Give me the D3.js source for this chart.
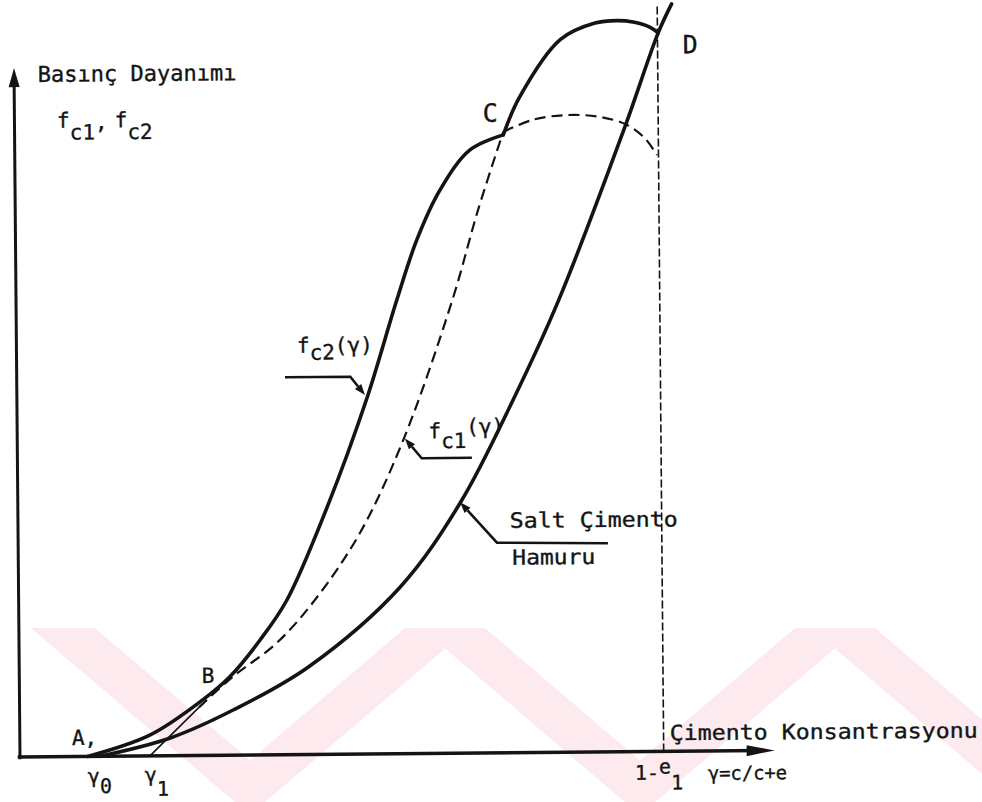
<!DOCTYPE html>
<html>
<head>
<meta charset="utf-8">
<script src="https://cdn.jsdelivr.net/npm/d3@7"></script>
<style>
  html, body { margin: 0; padding: 0; background: #fff; }
  svg { display: block; }
  text { font-family: "DejaVu Sans Mono", monospace; fill: #141414; stroke: #141414; stroke-width: 0.35; }
</style>
</head>
<body>
<svg id="chart" width="982" height="802"></svg>
<script>
// γ = c/(c+e) on the x axis, compressive strength on the y axis (relative units 0–100)
const gamma0 = 8.9;      // A: start of strength gain
const gamma1 = 17.1;     // start of fc1
const oneMinusE1 = 84.7; // 1 - e1

// fc2(γ): rising branch A → B → C
const fc2Lower = [[8.9,0],[17.1,2.8],[24.1,7.5],[27.7,10.6],[31.7,15.5],[35.3,20.9],[40.7,33.4],
                  [46.1,48.2],[50.1,61.3],[52.8,69.4],[55.9,76.1],[59.9,81.5],[64.3,83.5]];
// fc2(γ): upper branch C → D
const fc2Upper = [[64.3,83.5],[66.5,88.6],[71.9,96.3],[76.5,98.5],[79.4,98.8],[81.5,98.6],[83.7,97.9],[84.8,97.1]];
// salt çimento hamuru (pure cement paste)
const saltPaste = [[10.5,0],[19.8,2.4],[28.1,6.1],[38.0,11.8],[50.2,22.5],[58.2,33.8],[65.3,47.7],
                   [71.4,61.1],[80.3,84.4],[84.8,97.1],[86.6,101]];
// fc1(γ): straight start γ1 → B, dashed rise B → C, dashed dome past C
const fc1Start = [[17.1,0],[23.6,6.5]];
const fc1Rise = [[23.6,6.5],[28.1,10.6],[33.9,15.1],[39.0,20.9],[45.0,29.9],[50.8,42.4],
                 [57.4,61.2],[60.9,73.4],[64.3,83.9]];
const fc1Dome = [[64.3,83.9],[68.2,85.5],[72.7,86.1],[77.1,85.8],[80.6,84.7],[82.9,82.9],[84.5,80.6]];

// leader arrows: tail, elbow, tip on the curve
const leaders = [
  { tail:[35.3,51.0], elbow:[43.9,51.0], tip:[45.8,48.5] },
  { tail:[59.8,39.9], elbow:[53.2,39.9], tip:[51.0,42.6] },
  { tail:[77.6,28.2], elbow:[63.0,28.4], tip:[58.2,33.9] }
];

// tick labels along the γ axis
const tickLabels = [
  { at: gamma0, yv: -3.6, parts: [["γ",0],["0",10]] },
  { at: gamma1 - 0.7, yv: -3.5, parts: [["γ",0],["1",14]] },
  { at: oneMinusE1 - 3.8, yv: -3.8, parts: [["1-",0],["e",-6],["1",10]] }
];

const W = 982, H = 802;
const svg = d3.select("#chart");

// faint watermark chevrons along the bottom
const chevrons = [
  { cx: 250, half: 219, arm: 64 },
  { cx: 640, half: 219, arm: 64 },
  { cx: 1030, half: 219, arm: 64 }
];
const wm = svg.append("g");
const wmTop = 628, wmDepth = 187;
chevrons.forEach(c => {
  const k = c.half / wmDepth;
  const innerDepth = wmDepth - c.arm / k;
  const pts = [
    [c.cx - c.half, wmTop], [c.cx - c.half + c.arm, wmTop],
    [c.cx, wmTop + innerDepth], [c.cx + c.half - c.arm, wmTop],
    [c.cx + c.half, wmTop], [c.cx, wmTop + wmDepth]
  ];
  wm.append("path").attr("d", "M" + pts.join("L") + "Z").attr("fill", "#fdeaee");
});

const x = d3.scaleLinear().domain([0, 100]).range([20, 780]);
const y = d3.scaleLinear().domain([0, 100]).range([757, 17]);

// the drawing sits slightly tilted on the page
const g = svg.append("g").attr("transform", "rotate(-0.5,20,757)");

const line = d3.line().x(d => x(d[0])).y(d => y(d[1])).curve(d3.curveCatmullRom.alpha(0.5));
const ink = "#141414";

// axes with arrowheads
const yTop = 93.1, xEnd = 99.3;
g.append("line").attr("x1", x(0)).attr("y1", y(-0.3)).attr("x2", x(0)).attr("y2", y(yTop) + 10)
  .attr("stroke", ink).attr("stroke-width", 3);
g.append("path").attr("d", `M${x(0)},${y(yTop)} L${x(0)-5.5},${y(yTop)+19} L${x(0)+5.5},${y(yTop)+19} Z`).attr("fill", ink);
g.append("line").attr("x1", x(-0.3)).attr("y1", y(0)).attr("x2", x(xEnd) - 12).attr("y2", y(0))
  .attr("stroke", ink).attr("stroke-width", 3.4);
g.append("path").attr("d", `M${x(xEnd)},${y(0)} L${x(xEnd)-28},${y(0)-5.5} L${x(xEnd)-28},${y(0)+5.5} Z`).attr("fill", ink);

// 1-e1 vertical guide
g.append("line").attr("x1", x(oneMinusE1)).attr("x2", x(oneMinusE1)).attr("y1", y(0)).attr("y2", y(100.9))
  .attr("stroke", ink).attr("stroke-width", 1.6).attr("stroke-dasharray", "8,3");

// curves
g.append("path").attr("d", line(fc1Start)).attr("fill", "none").attr("stroke", ink).attr("stroke-width", 1.6);
g.append("path").attr("d", line(fc1Rise)).attr("fill", "none").attr("stroke", ink).attr("stroke-width", 2.2).attr("stroke-dasharray", "11,6");
g.append("path").attr("d", line(fc1Dome)).attr("fill", "none").attr("stroke", ink).attr("stroke-width", 2.2).attr("stroke-dasharray", "11,6");
g.append("path").attr("d", line(saltPaste)).attr("fill", "none").attr("stroke", ink).attr("stroke-width", 3.6).attr("stroke-linecap", "round");
g.append("path").attr("d", line(fc2Lower)).attr("fill", "none").attr("stroke", ink).attr("stroke-width", 3.6).attr("stroke-linecap", "round");
g.append("path").attr("d", line(fc2Upper)).attr("fill", "none").attr("stroke", ink).attr("stroke-width", 3.6).attr("stroke-linecap", "round");

// leader arrows
leaders.forEach(l => {
  const p = [l.tail, l.elbow, l.tip].map(d => [x(d[0]), y(d[1])]);
  const ang = Math.atan2(p[2][1] - p[1][1], p[2][0] - p[1][0]);
  const base = [p[2][0] - 11 * Math.cos(ang), p[2][1] - 11 * Math.sin(ang)];
  g.append("path").attr("d", `M${p[0]}L${p[1]}L${base}`).attr("fill", "none")
    .attr("stroke", ink).attr("stroke-width", 2.6);
  const n = [-Math.sin(ang) * 4, Math.cos(ang) * 4];
  g.append("path").attr("d", `M${p[2]}L${base[0]+n[0]},${base[1]+n[1]}L${base[0]-n[0]},${base[1]-n[1]}Z`).attr("fill", ink);
});

// text helper: parts are [string, vertical shift, optional horizontal shift]
function label(pos, parts, size, opts = {}) {
  const t = g.append("text").attr("x", x(pos[0])).attr("y", y(pos[1])).attr("font-size", size);
  if (opts.len) t.attr("textLength", opts.len).attr("lengthAdjust", "spacingAndGlyphs");
  let prev = 0;
  parts.forEach(p => {
    const s = t.append("tspan").text(p[0]).attr("dy", p[1] - prev);
    if (p[2]) s.attr("dx", p[2]);
    prev = p[1];
  });
  return t;
}

label([3.1, 91.2], [["Basınç Dayanımı", 0]], 22, { len: 199 });
label([5.6, 85.0], [["f", 0], ["c1", 12], [",", 2], ["f", 0, 7], ["c2", 12]], 21);
label([61.6, 85.3], [["C", 0]], 25);
label([88.0, 94.3], [["D", 0]], 25);
label([24.0, 9.8], [["B", 0]], 21);
label([6.85, 1.55], [["A,", 0]], 21);
label([36.9, 54.3], [["f", 0], ["c2", 7], ["(γ)", 0]], 21);
label([54.1, 42.6], [["f", 0], ["c1", 10], ["(γ)", -4]], 21);
label([64.7, 30.4], [["Salt Çimento", 0]], 21, { len: 168 });
label([65.0, 25.4], [["Hamuru", 0]], 21, { len: 83 });
label([85.5, 1.5], [["Çimento Konsantrasyonu", 0]], 21, { len: 308 });
label([90.5, -3.9], [["γ=c/c+e", 0]], 19, { len: 79 });
tickLabels.forEach(tl => label([tl.at, tl.yv], tl.parts, 20));
</script>
</body>
</html>
